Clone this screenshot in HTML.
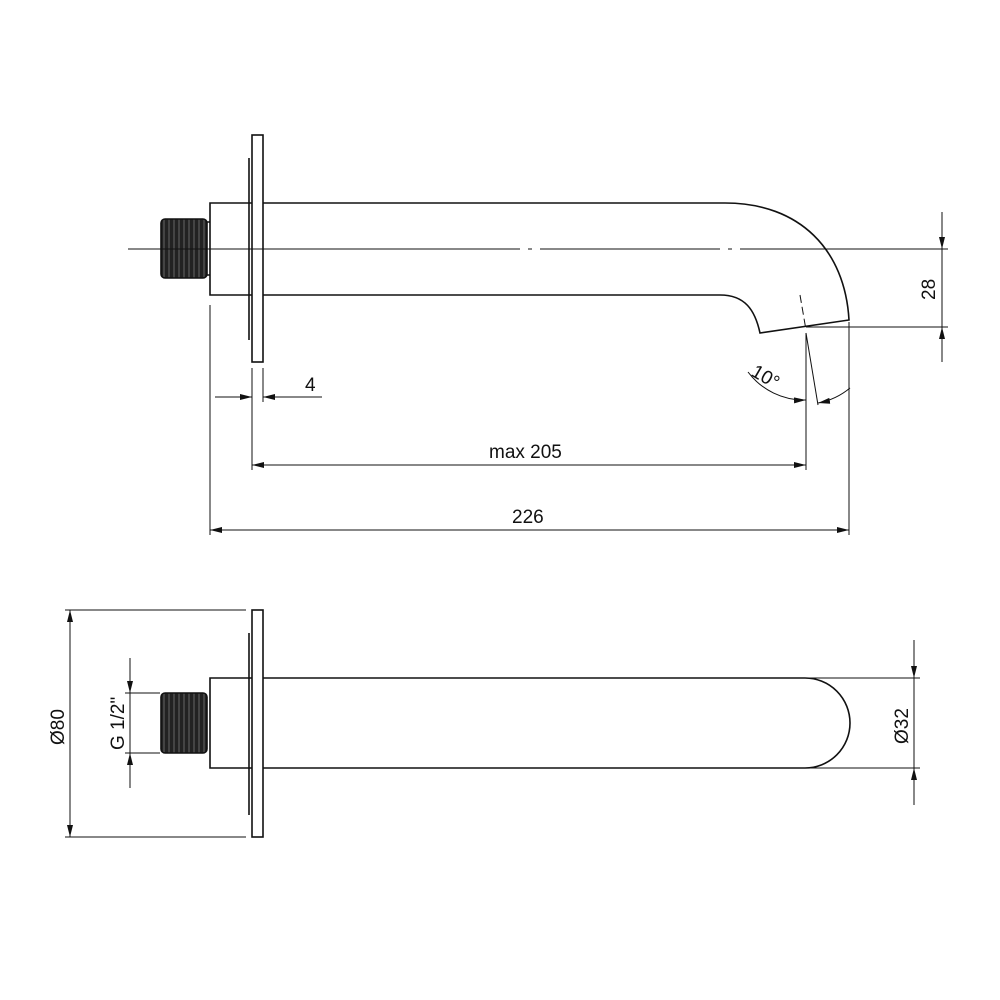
<!DOCTYPE html>
<html><head><meta charset="utf-8"><style>body{margin:0;background:#fff}svg{display:block}text{font-family:"Liberation Sans",sans-serif;font-size:19px;fill:#111}</style></head><body>
<svg width="1000" height="1000" viewBox="0 0 1000 1000" xmlns="http://www.w3.org/2000/svg">
<defs><marker id="a" viewBox="0 0 12 6" refX="12" refY="3" markerWidth="12" markerHeight="6" orient="auto-start-reverse" markerUnits="userSpaceOnUse"><path d="M0,0 L12,3 L0,6z" fill="#111"/></marker>
<pattern id="th" width="5" height="10" patternUnits="userSpaceOnUse"><rect width="5" height="10" fill="#222"/><line x1="4" y1="0" x2="4" y2="10" stroke="#777" stroke-width="0.8"/></pattern></defs>
<g stroke="#111" fill="none" stroke-width="1.6">
<!-- TOP VIEW -->
<rect x="252" y="135" width="11" height="227" fill="#fff"/>
<line x1="249" y1="158" x2="249" y2="340"/>
<path d="M252,203 H210 V295 H252"/>
<rect x="161" y="219" width="46" height="59" rx="4" fill="url(#th)"/>
<path d="M207,222 h3 M207,275 h3"/>
<path d="M263,203 H725 C800,203 845,250 849,320 L760,333 C755,310 745,295 720,295 H263"/>
<line x1="800" y1="295" x2="806" y2="330" stroke-width="1" stroke-dasharray="8,4"/>
</g>
<g stroke="#111" fill="none" stroke-width="1">
<path d="M128,249 H263 M263,249 H520 M528,249 H532 M540,249 H720 M728,249 H732 M740,249 H948" stroke-dasharray="none"/>
<line x1="210" y1="305" x2="210" y2="535"/>
<line x1="252" y1="368" x2="252" y2="470"/>
<line x1="263" y1="368" x2="263" y2="402"/>
<line x1="806" y1="333" x2="806" y2="470"/>
<line x1="849" y1="322" x2="849" y2="535"/>
<line x1="806" y1="333" x2="818" y2="405"/>
<line x1="215" y1="397" x2="252" y2="397" marker-end="url(#a)"/>
<line x1="322" y1="397" x2="263" y2="397" marker-end="url(#a)"/>
<line x1="252" y1="465" x2="806" y2="465" marker-start="url(#a)" marker-end="url(#a)"/>
<line x1="210" y1="530" x2="849" y2="530" marker-start="url(#a)" marker-end="url(#a)"/>
<line x1="806" y1="327" x2="948" y2="327"/>
<line x1="942" y1="212" x2="942" y2="249" marker-end="url(#a)"/>
<line x1="942" y1="362" x2="942" y2="327" marker-end="url(#a)"/>
<line x1="942" y1="249" x2="942" y2="327"/>
<path d="M748,372 A70,70 0 0 0 806,400" marker-end="url(#a)"/>
<path d="M850,388 A70,70 0 0 1 818,403" marker-end="url(#a)"/>
</g>
<text x="305" y="391">4</text>
<text x="489" y="458">max 205</text>
<text x="512" y="523">226</text>
<text transform="translate(935,300) rotate(-90)">28</text>
<text transform="translate(750,375) rotate(30)">10°</text>
<!-- BOTTOM VIEW -->
<g stroke="#111" fill="none" stroke-width="1.6">
<rect x="252" y="610" width="11" height="227" fill="#fff"/>
<line x1="249" y1="633" x2="249" y2="815"/>
<path d="M252,678 H210 V768 H252"/>
<rect x="161" y="693" width="46" height="60" rx="4" fill="url(#th)"/>
<path d="M263,678 H805 A45,45 0 0 1 805,768 H263"/>
</g>
<g stroke="#111" fill="none" stroke-width="1">
<line x1="65" y1="610" x2="246" y2="610"/>
<line x1="65" y1="837" x2="246" y2="837"/>
<line x1="70" y1="610" x2="70" y2="837" marker-start="url(#a)" marker-end="url(#a)"/>
<line x1="125" y1="693" x2="160" y2="693"/>
<line x1="125" y1="753" x2="160" y2="753"/>
<line x1="130" y1="658" x2="130" y2="693" marker-end="url(#a)"/>
<line x1="130" y1="788" x2="130" y2="753" marker-end="url(#a)"/>
<line x1="130" y1="693" x2="130" y2="753"/>
<line x1="805" y1="678" x2="920" y2="678"/>
<line x1="805" y1="768" x2="920" y2="768"/>
<line x1="914" y1="640" x2="914" y2="678" marker-end="url(#a)"/>
<line x1="914" y1="805" x2="914" y2="768" marker-end="url(#a)"/>
<line x1="914" y1="678" x2="914" y2="768"/>
</g>
<text transform="translate(64,745) rotate(-90)">Ø80</text>
<text transform="translate(124,750) rotate(-90)">G 1/2"</text>
<text transform="translate(908,744) rotate(-90)">Ø32</text>
</svg>
</body></html>
